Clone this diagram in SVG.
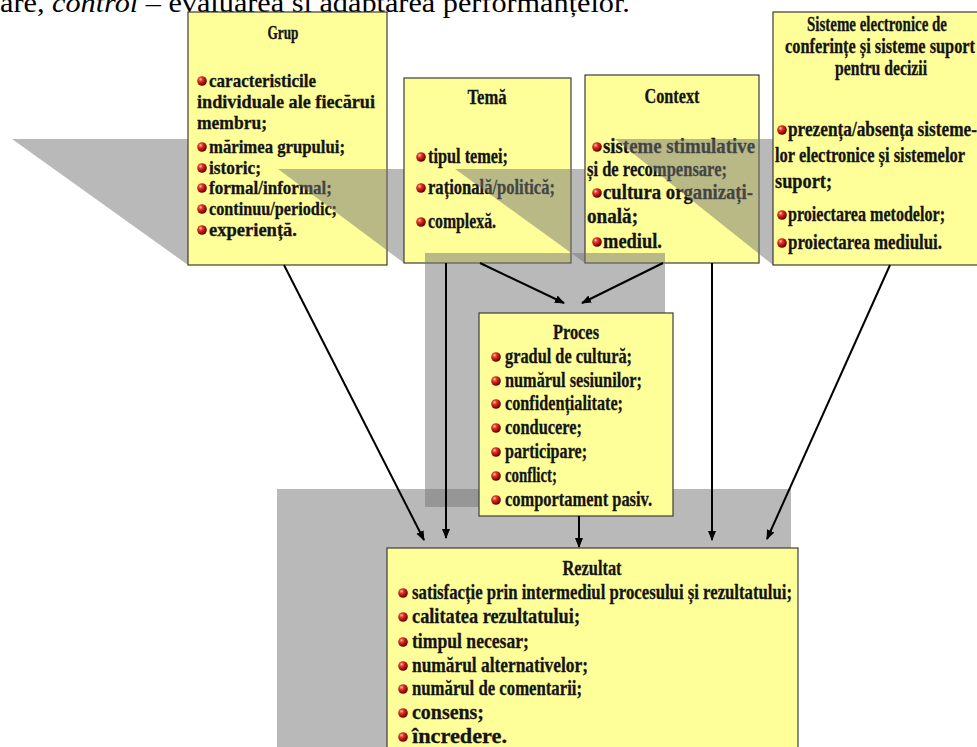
<svg xmlns="http://www.w3.org/2000/svg" width="977" height="747" viewBox="0 0 977 747">
<defs>
  <radialGradient id="ball" cx="0.35" cy="0.32" r="0.7">
    <stop offset="0" stop-color="#ffc8b8"/>
    <stop offset="0.3" stop-color="#e03a2a"/>
    <stop offset="0.75" stop-color="#a00808"/>
    <stop offset="1" stop-color="#500000"/>
  </radialGradient>
  <marker id="arr" viewBox="0 0 10 10" refX="9" refY="5" markerWidth="10" markerHeight="10" markerUnits="userSpaceOnUse" orient="auto">
    <path d="M0,1 L10,5 L0,9 z" fill="#000"/>
  </marker>
</defs>
<style>
  .box{fill:#ffff99;stroke:#3c3c3c;stroke-width:1.2}
  .sh{fill:#737373;fill-opacity:0.5}
  .t{font-family:"Liberation Serif","Times New Roman",serif;font-weight:bold;font-size:20px;fill:#141414;stroke:#141414;stroke-width:0.3}
  .s19{font-size:19px}
  .s21{font-size:21px}
  .h{text-anchor:middle}
  .b{fill:url(#ball)}
  .c{stroke:#000;stroke-width:2;fill:none;marker-end:url(#arr)}
  .top{font-family:"Liberation Serif","Times New Roman",serif;font-size:28px;fill:#000}
</style>

<rect width="977" height="747" fill="#fff"/>

<!-- heading line clipped at the top edge -->
<text class="top" transform="scale(1.08 1)" x="0" y="12">are, <tspan font-style="italic">control</tspan> – evaluarea și adaptarea performanțelor.</text>

<!-- Grup -->
<g id="grup">
  <polygon class="sh" points="12,139 211,139 387,265 188,265"/>
  <rect class="box" x="188" y="12" width="199" height="253"/>
  <text class="t s19 h" x="283" y="39" textLength="31" lengthAdjust="spacingAndGlyphs">Grup</text>
  <circle class="b" cx="202" cy="81" r="4.8"/>
  <text class="t s19" x="209" y="87" textLength="107" lengthAdjust="spacingAndGlyphs">caracteristicile</text>
  <text class="t s19" x="197" y="108" textLength="178" lengthAdjust="spacingAndGlyphs">individuale ale fiecărui</text>
  <text class="t s19" x="197" y="129" textLength="70" lengthAdjust="spacingAndGlyphs">membru;</text>
  <circle class="b" cx="202" cy="147" r="4.8"/>
  <text class="t s19" x="209" y="153" textLength="136" lengthAdjust="spacingAndGlyphs">mărimea grupului;</text>
  <circle class="b" cx="202" cy="168" r="4.8"/>
  <text class="t s19" x="209" y="174" textLength="52" lengthAdjust="spacingAndGlyphs">istoric;</text>
  <circle class="b" cx="202" cy="188" r="4.8"/>
  <text class="t s19" x="209" y="194" textLength="123" lengthAdjust="spacingAndGlyphs">formal/informal;</text>
  <circle class="b" cx="202" cy="209" r="4.8"/>
  <text class="t s19" x="209" y="215" textLength="128" lengthAdjust="spacingAndGlyphs">continuu/periodic;</text>
  <circle class="b" cx="202" cy="230" r="4.8"/>
  <text class="t s19" x="209" y="236" textLength="88" lengthAdjust="spacingAndGlyphs">experiență.</text>
</g>

<!-- Temă -->
<g id="tema">
  <polygon class="sh" points="278,169 445,169 571,263 404,263"/>
  <rect class="box" x="404" y="78" width="167" height="185"/>
  <text class="t h" x="487" y="104" textLength="39" lengthAdjust="spacingAndGlyphs">Temă</text>
  <circle class="b" cx="421" cy="157" r="4.8"/>
  <text class="t" x="428" y="163" textLength="80" lengthAdjust="spacingAndGlyphs">tipul temei;</text>
  <circle class="b" cx="421" cy="188" r="4.8"/>
  <text class="t" x="428" y="194" textLength="127" lengthAdjust="spacingAndGlyphs">rațională/politică;</text>
  <circle class="b" cx="421" cy="222" r="4.8"/>
  <text class="t" x="428" y="228" textLength="68" lengthAdjust="spacingAndGlyphs">complexă.</text>
</g>

<!-- Context -->
<g id="context">
  <polygon class="sh" points="455,169 629,169 759,263 585,263"/>
  <rect class="box" x="585" y="75" width="174" height="188"/>
  <text class="t h" x="672" y="103" textLength="55" lengthAdjust="spacingAndGlyphs">Context</text>
  <circle class="b" cx="597" cy="147" r="4.8"/>
  <text class="t" x="603" y="153" textLength="152" lengthAdjust="spacingAndGlyphs">sisteme stimulative</text>
  <text class="t" x="587" y="176" textLength="140" lengthAdjust="spacingAndGlyphs">și de recompensare;</text>
  <circle class="b" cx="597" cy="193" r="4.8"/>
  <text class="t" x="603" y="199" textLength="150" lengthAdjust="spacingAndGlyphs">cultura organizați-</text>
  <text class="t" x="587" y="223" textLength="51" lengthAdjust="spacingAndGlyphs">onală;</text>
  <circle class="b" cx="597" cy="242" r="4.8"/>
  <text class="t" x="603" y="248" textLength="59" lengthAdjust="spacingAndGlyphs">mediul.</text>
</g>

<!-- Sisteme electronice de conferințe și sisteme suport pentru decizii -->
<g id="sisteme">
  <polygon class="sh" points="615,139 827,139 985,265 773,265"/>
  <rect class="box" x="773" y="12" width="212" height="253"/>
  <text class="t h" x="877" y="31" textLength="140" lengthAdjust="spacingAndGlyphs">Sisteme electronice de</text>
  <text class="t h" x="880" y="53" textLength="190" lengthAdjust="spacingAndGlyphs">conferințe și sisteme suport</text>
  <text class="t h" x="881" y="75" textLength="92" lengthAdjust="spacingAndGlyphs">pentru decizii</text>
  <circle class="b" cx="782" cy="130" r="4.8"/>
  <text class="t" x="788" y="136" textLength="189" lengthAdjust="spacingAndGlyphs">prezența/absența sisteme-</text>
  <text class="t" x="775" y="162" textLength="190" lengthAdjust="spacingAndGlyphs">lor electronice și sistemelor</text>
  <text class="t" x="775" y="188" textLength="57" lengthAdjust="spacingAndGlyphs">suport;</text>
  <circle class="b" cx="782" cy="215" r="4.8"/>
  <text class="t" x="788" y="221" textLength="157" lengthAdjust="spacingAndGlyphs">proiectarea metodelor;</text>
  <circle class="b" cx="782" cy="243" r="4.8"/>
  <text class="t" x="788" y="249" textLength="154" lengthAdjust="spacingAndGlyphs">proiectarea mediului.</text>
</g>

<!-- shadows of the two lower boxes -->
<g id="lower-shadows">
  <rect class="sh" x="425" y="253" width="240" height="254"/>
  <rect class="sh" x="277" y="489" width="514" height="260"/>
</g>

<!-- Proces -->
<g id="proces">
  <rect class="box" x="479" y="313" width="194" height="203"/>
  <text class="t s21 h" x="576" y="339" textLength="46" lengthAdjust="spacingAndGlyphs">Proces</text>
  <circle class="b" cx="496" cy="357" r="4.8"/>
  <text class="t s21" x="505" y="363" textLength="127" lengthAdjust="spacingAndGlyphs">gradul de cultură;</text>
  <circle class="b" cx="496" cy="381" r="4.8"/>
  <text class="t s21" x="505" y="387" textLength="137" lengthAdjust="spacingAndGlyphs">numărul sesiunilor;</text>
  <circle class="b" cx="496" cy="404" r="4.8"/>
  <text class="t s21" x="505" y="410" textLength="118" lengthAdjust="spacingAndGlyphs">confidențialitate;</text>
  <circle class="b" cx="496" cy="428" r="4.8"/>
  <text class="t s21" x="505" y="434" textLength="77" lengthAdjust="spacingAndGlyphs">conducere;</text>
  <circle class="b" cx="496" cy="452" r="4.8"/>
  <text class="t s21" x="505" y="458" textLength="82" lengthAdjust="spacingAndGlyphs">participare;</text>
  <circle class="b" cx="496" cy="476" r="4.8"/>
  <text class="t s21" x="505" y="482" textLength="52" lengthAdjust="spacingAndGlyphs">conflict;</text>
  <circle class="b" cx="496" cy="500" r="4.8"/>
  <text class="t s21" x="505" y="506" textLength="147" lengthAdjust="spacingAndGlyphs">comportament pasiv.</text>
</g>

<!-- Rezultat -->
<g id="rezultat">
  <rect class="box" x="387" y="548" width="411" height="210"/>
  <text class="t s21 h" x="592" y="575" textLength="59" lengthAdjust="spacingAndGlyphs">Rezultat</text>
  <circle class="b" cx="403" cy="593" r="4.8"/>
  <text class="t s21" x="412" y="599" textLength="380" lengthAdjust="spacingAndGlyphs">satisfacție prin intermediul procesului și rezultatului;</text>
  <circle class="b" cx="403" cy="617" r="4.8"/>
  <text class="t s21" x="412" y="623" textLength="168" lengthAdjust="spacingAndGlyphs">calitatea rezultatului;</text>
  <circle class="b" cx="403" cy="642" r="4.8"/>
  <text class="t s21" x="412" y="648" textLength="117" lengthAdjust="spacingAndGlyphs">timpul necesar;</text>
  <circle class="b" cx="403" cy="666" r="4.8"/>
  <text class="t s21" x="412" y="672" textLength="176" lengthAdjust="spacingAndGlyphs">numărul alternativelor;</text>
  <circle class="b" cx="403" cy="689" r="4.8"/>
  <text class="t s21" x="412" y="695" textLength="170" lengthAdjust="spacingAndGlyphs">numărul de comentarii;</text>
  <circle class="b" cx="403" cy="713" r="4.8"/>
  <text class="t s21" x="412" y="719" textLength="72" lengthAdjust="spacingAndGlyphs">consens;</text>
  <circle class="b" cx="403" cy="737" r="4.8"/>
  <text class="t s21" x="412" y="743" textLength="95" lengthAdjust="spacingAndGlyphs">încredere.</text>
</g>

<!-- connectors -->
<g id="connectors">
  <path class="c" d="M284,265 L424,540"/>
  <path class="c" d="M446,263 L446,538"/>
  <path class="c" d="M480,263 L564,303"/>
  <path class="c" d="M663,263 L582,303"/>
  <path class="c" d="M712,263 L712,540"/>
  <path class="c" d="M890,265 L767,539"/>
  <path class="c" d="M579,516 L579,547"/>
</g>
</svg>
